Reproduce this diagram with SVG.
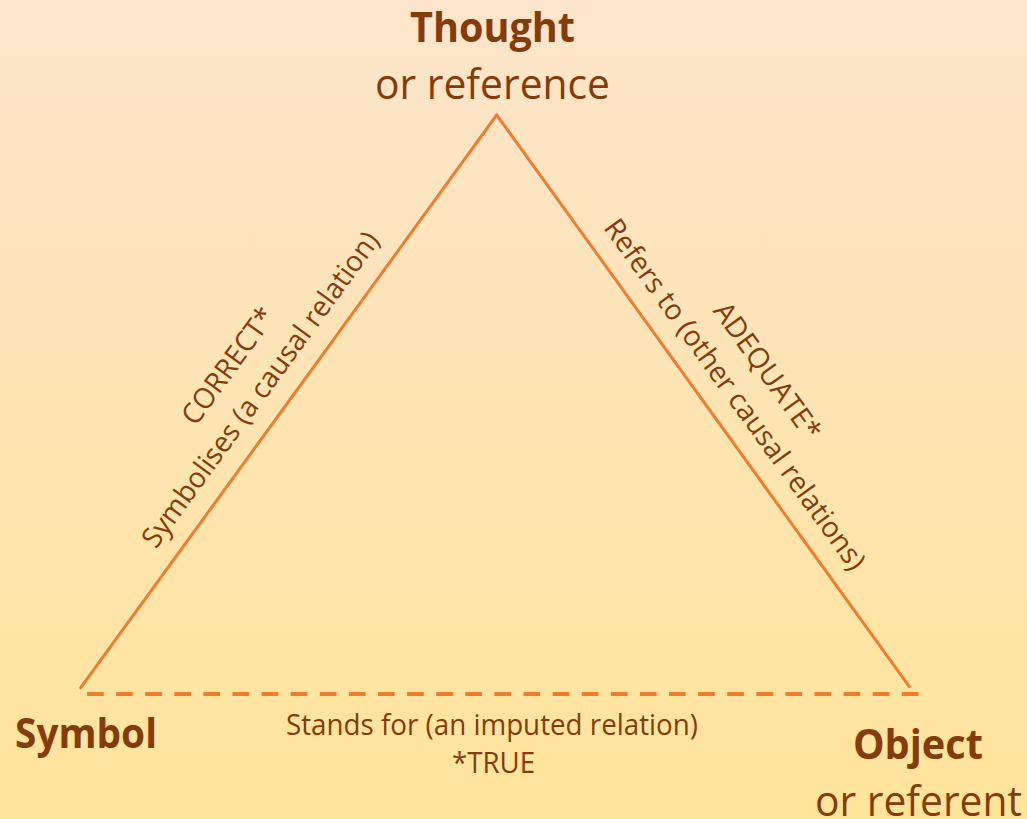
<svg xmlns="http://www.w3.org/2000/svg" width="1027" height="819" viewBox="0 0 1027 819">
  <defs>
    <linearGradient id="bg" x1="0" y1="0" x2="0" y2="1">
      <stop offset="0" stop-color="#FCE5CB"/>
      <stop offset="1" stop-color="#FFE49A"/>
    </linearGradient>
    <style>
      .t { font-family: "Open Sans", "Noto Sans", sans-serif; fill: #843C0C; text-anchor: middle; }
      .big { font-size: 42px; }
      .bold { font-weight: bold; }
      .lbl { font-size: 28.5px; }
      .edge { stroke: #ED7D31; stroke-width: 3; fill: none; stroke-linecap: round; }
      .dash { stroke: #ED7D31; stroke-width: 4; fill: none; stroke-dasharray: 16.7 12.4; }
    </style>
  </defs>
  <rect x="0" y="0" width="1027" height="819" fill="url(#bg)"/>

  <g id="connectors">
    <line class="edge" x1="80.7" y1="687.7" x2="496.7" y2="115"/>
    <line class="edge" x1="496.7" y1="115" x2="909.3" y2="686.7"/>
    <line class="dash" x1="87" y1="694" x2="919" y2="694"/>
    <g id="label-left">
      <text class="t lbl" x="236.1" y="371.6" textLength="137" lengthAdjust="spacingAndGlyphs" transform="rotate(-54 236.1 371.6)">CORRECT*</text>
      <text class="t lbl" x="268.4" y="395.1" textLength="382" lengthAdjust="spacingAndGlyphs" transform="rotate(-54 268.4 395.1)">Symbolises (a causal relation)</text>
    </g>
    <g id="label-right">
      <text class="t lbl" x="759.6" y="376.7" textLength="162" lengthAdjust="spacingAndGlyphs" transform="rotate(54.2 759.6 376.7)">ADEQUATE*</text>
      <text class="t lbl" x="727.1" y="400.1" textLength="425" lengthAdjust="spacingAndGlyphs" transform="rotate(54.2 727.1 400.1)">Refers to (other causal relations)</text>
    </g>
    <g id="label-bottom">
      <text class="t lbl" x="492" y="735" textLength="412" lengthAdjust="spacingAndGlyphs">Stands for (an imputed relation)</text>
      <text class="t lbl" x="493.5" y="773" textLength="83" lengthAdjust="spacingAndGlyphs">*TRUE</text>
    </g>
  </g>

  <g id="node-thought">
    <text class="t big bold" x="492.5" y="42" textLength="165" lengthAdjust="spacingAndGlyphs">Thought</text>
    <text class="t big" x="492.5" y="99" textLength="235" lengthAdjust="spacingAndGlyphs">or reference</text>
  </g>
  <g id="node-symbol">
    <text class="t big bold" x="86" y="748" textLength="142" lengthAdjust="spacingAndGlyphs">Symbol</text>
  </g>
  <g id="node-object">
    <text class="t big bold" x="918" y="759" textLength="130" lengthAdjust="spacingAndGlyphs">Object</text>
    <text class="t big" x="918.5" y="816" textLength="207" lengthAdjust="spacingAndGlyphs">or referent</text>
  </g>
</svg>
